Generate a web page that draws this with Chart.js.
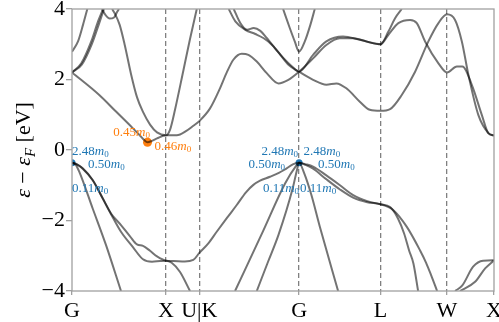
<!DOCTYPE html>
<html>
<head>
<meta charset="utf-8">
<script src="https://cdn.jsdelivr.net/npm/chart.js@4.4.0/dist/chart.umd.min.js"></script>
<style>
  html, body { margin: 0; padding: 0; background: #fff; }
</style>
</head>
<body>
<canvas id="bands" width="499" height="322"></canvas>
<script>
// k path in units of 2pi/a, energies in eV relative to E_F
const kTicks = [0, 1.0, 1.354, 2.415, 3.281, 3.988, 4.488]
const kLabels = ['G', 'X', 'U|K', 'G', 'L', 'W', 'X']
const eTicks = [-4, -2, 0, 2, 4]

// valence bands [k, E]
const vb1 = [[0, -0.36], [0.04, -0.42], [0.078, -0.62], [0.22, -1.66], [0.362, -2.70], [0.521, -4.0]]
const vb2 = [[0, -0.36], [0.05, -0.40], [0.114, -0.52], [0.22, -0.85], [0.327, -1.37], [0.415, -1.80],
  [0.521, -2.13], [0.617, -2.45], [0.691, -2.68], [0.755, -2.72], [0.83, -2.86], [0.904, -3.02],
  [1.0, -3.14], [1.08, -3.15], [1.2, -3.16], [1.29, -3.12], [1.354, -2.92], [1.45, -2.65],
  [1.539, -2.32], [1.65, -1.92], [1.752, -1.56], [1.85, -1.20], [1.929, -0.99], [2.0, -0.87],
  [2.106, -0.76], [2.2, -0.65], [2.26, -0.56], [2.354, -0.40], [2.415, -0.36], [2.48, -0.40],
  [2.564, -0.47], [2.705, -0.72], [2.85, -1.0], [2.99, -1.28], [3.14, -1.45], [3.281, -1.54],
  [3.383, -1.62], [3.468, -1.95], [3.532, -2.37], [3.585, -2.85], [3.631, -3.22], [3.681, -4.0]]
const vb3 = [[0, -0.36], [0.05, -0.41], [0.114, -0.53], [0.22, -0.86], [0.327, -1.38], [0.415, -1.82],
  [0.521, -2.32], [0.646, -2.75], [0.755, -3.10], [0.851, -3.17], [0.936, -3.15], [1.0, -3.14],
  [1.06, -3.20], [1.149, -3.46], [1.255, -4.0]]
const vb4 = [[1.734, -4.0], [2.032, -2.30], [2.266, -0.95], [2.383, -0.45], [2.415, -0.36],
  [2.468, -0.65], [2.543, -1.25], [2.638, -2.2], [2.83, -4.0]]
const vb5 = [[1.965, -4.0], [2.085, -3.17], [2.197, -2.4], [2.346, -1.1], [2.394, -0.55], [2.415, -0.36],
  [2.48, -0.42], [2.564, -0.53], [2.7, -0.82], [2.85, -1.12], [2.99, -1.35], [3.14, -1.48],
  [3.281, -1.54], [3.415, -1.70], [3.561, -2.18], [3.702, -2.85], [3.766, -3.2], [3.819, -3.55],
  [3.883, -4.0]]
const vb6 = [[4.074, -4.0], [4.149, -3.85], [4.266, -3.31], [4.372, -3.14], [4.488, -3.13]]
const vb7 = [[4.127, -4.0], [4.287, -3.74], [4.394, -3.36], [4.488, -3.13]]

// conduction bands [k, E]
const cb1 = [[0, 2.20], [0.29, 1.56], [0.468, 1.09], [0.646, 0.62], [0.723, 0.41], [0.765, 0.29],
  [0.803, 0.22], [0.85, 0.26], [0.904, 0.33], [1.0, 0.42], [1.114, 0.42], [1.22, 0.55],
  [1.287, 0.68], [1.354, 0.82], [1.468, 1.18], [1.574, 1.75], [1.646, 2.20], [1.716, 2.56],
  [1.805, 2.73], [1.876, 2.70], [1.965, 2.51], [2.071, 2.18], [2.195, 1.89], [2.301, 1.99],
  [2.415, 2.22], [2.564, 2.60], [2.705, 2.98], [2.848, 3.17], [2.989, 3.17], [3.131, 3.08],
  [3.281, 3.00], [3.365, 3.27], [3.471, 3.60], [3.596, 3.69], [3.667, 3.60], [3.755, 3.08],
  [3.897, 2.46], [3.988, 2.20], [4.093, 2.37], [4.152, 2.37], [4.252, 1.85], [4.359, 0.99],
  [4.429, 0.47], [4.488, 0.41]]
const cb2 = [[0.426, 4.0], [0.454, 3.88], [0.507, 3.55], [0.561, 2.98], [0.628, 2.15], [0.691, 1.50],
  [0.755, 1.08], [0.83, 0.72], [0.904, 0.50], [1.0, 0.42], [1.043, 0.58], [1.096, 1.15],
  [1.184, 2.25], [1.255, 3.15], [1.327, 4.0]]
const cb3 = [[0, 2.20], [0.099, 2.46], [0.205, 3.08], [0.277, 3.65], [0.33, 4.0]]
const cb4 = [[0, 2.20], [0.106, 2.43], [0.213, 3.02], [0.287, 3.58], [0.34, 4.0]]
const cb5 = [[0, 2.79], [0.064, 3.08], [0.117, 3.55], [0.163, 4.0]]
const cb6 = [[0.319, 4.0], [0.354, 3.84], [0.401, 3.73], [0.447, 3.76], [0.482, 3.93], [0.5, 4.0]]
const cb7 = [[1.667, 4.0], [1.737, 3.65], [1.844, 3.41], [1.95, 3.29], [2.039, 3.17], [2.128, 2.98],
  [2.216, 2.70], [2.305, 2.41], [2.415, 2.22], [2.564, 1.99], [2.705, 1.85], [2.812, 1.89],
  [2.918, 1.75], [3.061, 1.37], [3.167, 1.14], [3.281, 1.11], [3.383, 1.16], [3.507, 1.56],
  [3.649, 2.22], [3.79, 3.08], [3.897, 3.60], [3.988, 3.85], [4.074, 3.69], [4.146, 3.08],
  [4.216, 2.13], [4.322, 0.99], [4.429, 0.48], [4.488, 0.41]]
const cb8 = [[1.72, 4.0], [1.79, 3.60], [1.862, 3.41], [1.933, 3.46], [2.003, 3.38], [2.074, 3.17],
  [2.146, 2.93], [2.252, 2.60], [2.34, 2.37], [2.415, 2.22], [2.564, 2.70], [2.705, 3.08],
  [2.883, 3.22], [3.061, 3.13], [3.281, 3.00], [3.365, 3.36], [3.436, 3.74], [3.507, 4.0]]
const cb9 = [[2.245, 4.0], [2.316, 3.46], [2.369, 3.08], [2.415, 2.79], [2.476, 3.08], [2.535, 3.55], [2.582, 4.0]]

// band edges and effective masses (m0)
const vbmK = [0, 2.415]
const vbmE = -0.36
const cbmK = [0.803]
const cbmE = 0.22
const vbMass = ['2.48', '0.50', '0.11']
const cbMass = ['0.45', '0.46']

const bands = [vb1, vb2, vb3, vb4, vb5, vb6, vb7, cb1, cb2, cb3, cb4, cb5, cb6, cb7, cb8, cb9]

const blue = '#1f77b4'
const orange = '#ff7f0e'
const serif = '"Liberation Serif", "Times New Roman", serif'

const datasets = bands.map((b, i) => ({
  label: 'band ' + i,
  data: b.map(p => ({ x: p[0], y: p[1] })),
  borderColor: 'rgba(0,0,0,0.55)',
  borderWidth: 2,
  pointRadius: 0,
  cubicInterpolationMode: 'monotone',
  fill: false,
  order: 1
}))
datasets.push({
  label: 'VBM',
  data: vbmK.map(k => ({ x: k, y: vbmE })),
  showLine: false,
  pointRadius: 3.5,
  backgroundColor: blue,
  borderWidth: 0,
  order: 5
})
datasets.push({
  label: 'CBM',
  data: cbmK.map(k => ({ x: k, y: cbmE })),
  showLine: false,
  pointRadius: 4.5,
  backgroundColor: orange,
  borderWidth: 0,
  order: 5
})

// label placement around the band edges (pixel offsets)
const massLabels = [
  { k: vbmK[0], e: vbmE, t: vbMass[0], dx: 0, dy: -11.5, align: 'left', c: blue },
  { k: vbmK[0], e: vbmE, t: vbMass[1], dx: 16, dy: 1.5, align: 'left', c: blue },
  { k: vbmK[0], e: vbmE, t: vbMass[2], dx: 0, dy: 26, align: 'left', c: blue },
  { k: vbmK[1], e: vbmE, t: vbMass[0], dx: -1, dy: -11.5, align: 'right', c: blue },
  { k: vbmK[1], e: vbmE, t: vbMass[0], dx: 4.5, dy: -11.5, align: 'left', c: blue },
  { k: vbmK[1], e: vbmE, t: vbMass[1], dx: -14, dy: 1.5, align: 'right', c: blue },
  { k: vbmK[1], e: vbmE, t: vbMass[1], dx: 19, dy: 1.5, align: 'left', c: blue },
  { k: vbmK[1], e: vbmE, t: vbMass[2], dx: 0, dy: 26, align: 'right', c: blue },
  { k: vbmK[1], e: vbmE, t: vbMass[2], dx: 1, dy: 26, align: 'left', c: blue },
  { k: cbmK[0], e: cbmE, t: cbMass[0], dx: 2.5, dy: -10, align: 'right', c: orange },
  { k: cbmK[0], e: cbmE, t: cbMass[1], dx: 7, dy: 4.5, align: 'left', c: orange }
]

function drawMass(ctx, txt, x, y, align, color) {
  const big = '13px ' + serif
  const it = 'italic 13px ' + serif
  const sub = '9px ' + serif
  ctx.font = big
  const w1 = ctx.measureText(txt).width
  ctx.font = it
  const w2 = ctx.measureText('m').width
  ctx.font = sub
  const w3 = ctx.measureText('0').width
  const x0 = align === 'right' ? x - (w1 + w2 + w3) : x
  ctx.fillStyle = color
  ctx.textAlign = 'left'
  ctx.textBaseline = 'middle'
  ctx.font = big
  ctx.fillText(txt, x0, y)
  ctx.font = it
  ctx.fillText('m', x0 + w1, y)
  ctx.font = sub
  ctx.fillText('0', x0 + w1 + w2, y + 3)
}

const overlay = {
  id: 'overlay',
  afterDatasetsDraw(chart) {
    const { ctx, chartArea: a, scales } = chart
    ctx.save()
    ctx.strokeStyle = '#a0a0a0'
    ctx.lineWidth = 1.3
    ctx.strokeRect(a.left, a.top, a.right - a.left, a.bottom - a.top)

    massLabels.forEach(m => {
      const px = scales.x.getPixelForValue(m.k) + m.dx
      const py = scales.y.getPixelForValue(m.e) + m.dy
      drawMass(ctx, m.t, px, py, m.align, m.c)
    })

    // y axis title: epsilon - epsilon_F [eV]
    ctx.translate(30, (a.top + a.bottom) / 2)
    ctx.rotate(-Math.PI / 2)
    const parts = [
      ['\u03b5', 'italic 22px ' + serif, 0],
      [' \u2212 ', '22px ' + serif, 0],
      ['\u03b5', 'italic 22px ' + serif, 0],
      ['F', 'italic 15px ' + serif, 5],
      [' [eV]', '22px ' + serif, 0]
    ]
    let total = 0
    parts.forEach(p => { ctx.font = p[1]; total += ctx.measureText(p[0]).width })
    let x = -total / 2
    ctx.fillStyle = '#000'
    ctx.textAlign = 'left'
    ctx.textBaseline = 'alphabetic'
    parts.forEach(p => {
      ctx.font = p[1]
      ctx.fillText(p[0], x, p[2])
      x += ctx.measureText(p[0]).width
    })
    ctx.restore()
  }
}

new Chart(document.getElementById('bands'), {
  type: 'line',
  data: { datasets: datasets },
  options: {
    responsive: false,
    animation: false,
    layout: { padding: { top: 9, right: 5, left: 0, bottom: 0 } },
    plugins: { legend: { display: false }, tooltip: { enabled: false } },
    scales: {
      x: {
        type: 'linear',
        min: 0,
        max: 4.488,
        afterBuildTicks: s => { s.ticks = kTicks.map(v => ({ value: v })) },
        afterFit: s => { s.height = 31; s.paddingLeft = 0; s.paddingRight = 0 },
        ticks: {
          autoSkip: false,
          maxRotation: 0,
          padding: 3,
          color: '#000',
          font: { family: serif, size: 22 },
          callback: (v, i) => kLabels[i]
        },
        grid: {
          color: c => (c.index === 0 || c.index === kTicks.length - 1) ? 'rgba(0,0,0,0)' : '#808080',
          lineWidth: 1.3,
          tickLength: 4,
          tickColor: '#a0a0a0',
          tickWidth: 1.3
        },
        border: { display: false, dash: [5, 3] }
      },
      y: {
        min: -4,
        max: 4,
        afterBuildTicks: s => { s.ticks = eTicks.map(v => ({ value: v })) },
        afterFit: s => { s.width = 72; s.paddingTop = 0; s.paddingBottom = 0 },
        ticks: {
          padding: 1,
          color: '#000',
          font: { family: serif, size: 22 },
          callback: v => String(v).replace('-', '\u2212')
        },
        grid: { drawOnChartArea: false, tickLength: 6, color: '#a0a0a0', lineWidth: 1.3 },
        border: { display: false }
      }
    }
  },
  plugins: [overlay]
})
</script>
</body>
</html>
